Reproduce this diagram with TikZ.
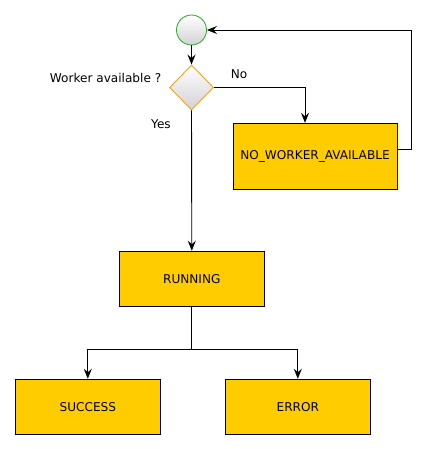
\documentclass[tikz,border=0pt]{standalone}
\usepackage{fontspec}
\setmainfont{DejaVu Sans}
\usetikzlibrary{shapes.geometric,arrows.meta,positioning}
\definecolor{stateyellow}{HTML}{FFCC00}
\definecolor{startgreen}{HTML}{3DAA3D}
\definecolor{decideorange}{HTML}{F0A030}
\tikzset{
    state/.style={draw,line width=0.9pt,fill=stateyellow,minimum width=145pt,minimum height=55pt,inner sep=0pt},
    startnode/.style={circle,draw=startgreen,line width=0.9pt,top color=white,bottom color=gray!35,minimum size=30pt,inner sep=0pt},
    decision/.style={diamond,draw=decideorange,line width=0.9pt,top color=white,bottom color=gray!35,minimum width=44pt,minimum height=45pt,inner sep=0pt},
}
\begin{document}
\begin{tikzpicture}[x=1pt,y=-1pt,font=\fontsize{12.1}{14}\selectfont,line width=0.9pt,>={Stealth[length=10pt,width=8pt,inset=3.5pt]}]
    \useasboundingbox (0,0) rectangle (425,449);
    \node[startnode] at (191.5,30)(start){};
    \node[decision] at (191.5,87.5)(decide){};
    \node[anchor=east,inner sep=0pt] at (161.7,78)(question){Worker available ?};
    \node at (239,74)(no){No};
    \node at (161,124.5)(yes){Yes};
    \node[state,minimum width=164pt,minimum height=66pt] at (315,156.3)(nwa){NO\_WORKER\_AVAILABLE};
    \node[state] at (191.8,278.7)(run){RUNNING};
    \node[state] at (87.8,406.7)(succ){SUCCESS};
    \node[state] at (297.8,406.7)(err){ERROR};

    \coordinate (ghostright) at (411,149.5);
    \coordinate (split) at (191.8,349.5);

    \draw[->](start.south) -- (decide.north);
    \draw[->](decide.east) -| (nwa.north -| 305,0);
    \draw[->](nwa.east |- ghostright) -- (ghostright) |- (start.east);
    \draw[->](decide.south) -- (run.north);
    \draw(run.south) -- (split);
    \draw[->](split) -| (succ.north);
    \draw[->](split) -| (err.north);
\end{tikzpicture}
\end{document}
